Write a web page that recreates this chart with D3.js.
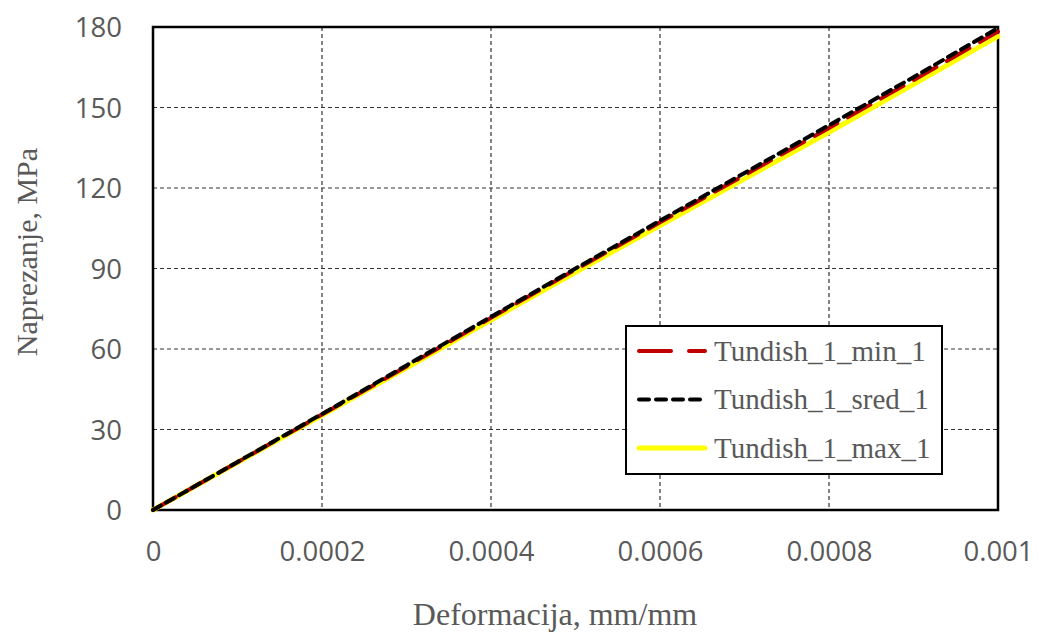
<!DOCTYPE html>
<html><head><meta charset="utf-8">
<script src="https://cdn.jsdelivr.net/npm/d3@7"></script>
<style>body{margin:0;background:#fff}</style>
</head><body>
<svg id="c" width="1038" height="635"></svg>
<script>
const strain = [0, 0.0001, 0.0002, 0.0003, 0.0004, 0.0005, 0.0006, 0.0007, 0.0008, 0.0009, 0.001];
const minVals = [0, 17.8, 35.6, 53.5, 71.6, 89.6, 107.2, 124.8, 142.4, 160.2, 178.3];
const sredVals = [0, 17.9, 35.8, 53.9, 72.0, 90.0, 107.8, 125.6, 143.4, 161.3, 179.6];
const maxVals = [0, 17.7, 35.3, 53.0, 70.8, 88.6, 106.0, 123.4, 140.8, 158.6, 176.5];
const seriesNames = ["Tundish_1_min_1", "Tundish_1_sred_1", "Tundish_1_max_1"];
const xTicks = [0, 0.0002, 0.0004, 0.0006, 0.0008, 0.001];
const xTickLabels = ["0", "0.0002", "0.0004", "0.0006", "0.0008", "0.001"];
const yTicks = [0, 30, 60, 90, 120, 150, 180];

const svg = d3.select("#c");
const L = 153, R = 998, T = 27, B = 510;
const x = d3.scaleLinear().domain([0, 0.001]).range([L, R]);
const y = d3.scaleLinear().domain([0, 180]).range([B, T]);
const serif = "'Liberation Serif', 'Times New Roman', serif";
const sans = "'Open Sans', 'Liberation Sans', sans-serif";

// gridlines
svg.append("g").selectAll("line").data(yTicks.slice(1, -1)).join("line")
  .attr("x1", L).attr("x2", R).attr("y1", d => y(d)).attr("y2", d => y(d))
  .attr("stroke", "#333").attr("stroke-width", 1.2).attr("stroke-dasharray", "4,3");
svg.append("g").selectAll("line").data(xTicks.slice(1, -1)).join("line")
  .attr("y1", T).attr("y2", B).attr("x1", d => x(d)).attr("x2", d => x(d))
  .attr("stroke", "#333").attr("stroke-width", 1.2).attr("stroke-dasharray", "4,3");

// axes
const gx = svg.append("g").attr("transform", `translate(0,${B})`)
  .call(d3.axisBottom(x).tickValues(xTicks).tickFormat((d, i) => xTickLabels[i]).tickSize(0).tickPadding(0));
const gy = svg.append("g").attr("transform", `translate(${L},0)`)
  .call(d3.axisLeft(y).tickValues(yTicks).tickSize(0).tickPadding(31));
[gx, gy].forEach(g => {
  g.select(".domain").remove();
  g.selectAll("text").attr("font-family", sans).attr("font-size", 27.5).attr("fill", "#595959");
});
gx.selectAll("text").attr("dy", null).attr("y", 51);
gy.selectAll("text").attr("dy", "0.36em");

// plot border
svg.append("rect").attr("x", L).attr("y", T).attr("width", R - L).attr("height", B - T)
  .attr("fill", "none").attr("stroke", "#000").attr("stroke-width", 2.5);

const line = d3.line().x(d => x(d[0])).y(d => y(d[1]));
const data = [minVals, sredVals, maxVals].map(v => strain.map((s, i) => [s, v[i]]));
const styles = [
  {color: "#c00000", dash: "26,12", w: 4},
  {color: "#000000", dash: "9,6", w: 4},
  {color: "#ffff00", dash: null, w: 5}
];
const order = [2, 0, 1];
order.forEach(i => {
  svg.append("path").datum(data[i]).attr("d", line)
    .attr("fill", "none").attr("stroke", styles[i].color).attr("stroke-width", styles[i].w)
    .attr("stroke-dasharray", styles[i].dash).attr("stroke-linecap", "round");
});

// legend
const lg = svg.append("g");
lg.append("rect").attr("x", 626).attr("y", 326).attr("width", 316).attr("height", 148)
  .attr("fill", "#fff").attr("stroke", "#000").attr("stroke-width", 2);
seriesNames.forEach((n, i) => {
  const yy = 351 + i * 48.5;
  lg.append("line").attr("x1", 639).attr("x2", 705).attr("y1", yy).attr("y2", yy)
    .attr("stroke", styles[i].color).attr("stroke-width", styles[i].w)
    .attr("stroke-dasharray", i === 0 ? "32,18" : (i === 1 ? "10,7" : null))
    .attr("stroke-linecap", "round");
  lg.append("text").attr("x", 714).attr("y", yy).attr("dy", "0.33em").text(n)
    .attr("font-family", serif).attr("font-size", 29).attr("fill", "#595959");
});

// axis titles
svg.append("text").attr("x", 555).attr("y", 625).attr("text-anchor", "middle")
  .text("Deformacija, mm/mm").attr("font-family", serif)
  .attr("font-size", 32).attr("fill", "#595959");
svg.append("text").attr("transform", `translate(37,252) rotate(-90)`).attr("text-anchor", "middle")
  .text("Naprezanje, MPa").attr("font-family", serif)
  .attr("font-size", 30).attr("fill", "#595959");
</script>
</body></html>
